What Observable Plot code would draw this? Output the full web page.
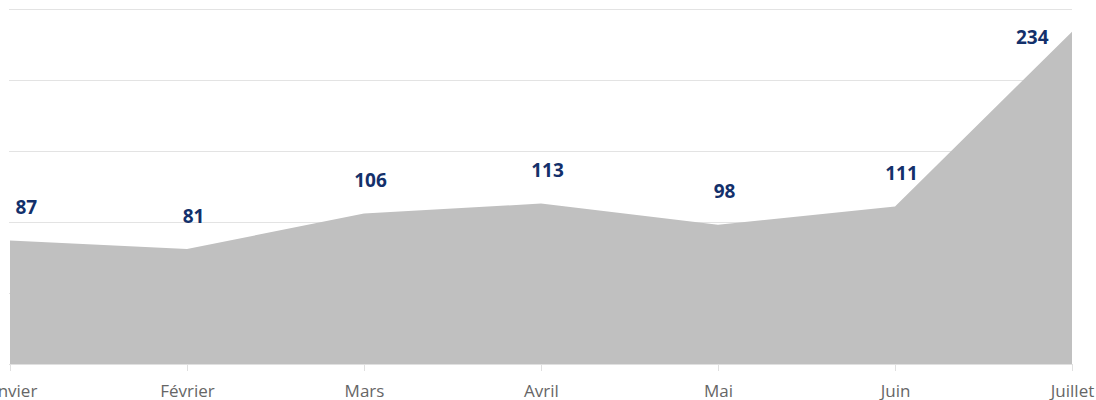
<!DOCTYPE html>
<html>
<head>
<meta charset="utf-8">
<script src="https://cdn.jsdelivr.net/npm/d3@7"></script>
<script src="https://cdn.jsdelivr.net/npm/@observablehq/plot@0.6"></script>
<style>
  html, body { margin: 0; padding: 0; background: #fff; }
  #chart svg { display: block; }
</style>
</head>
<body>
<div id="chart"></div>
<script>
const months = ["Janvier", "Février", "Mars", "Avril", "Mai", "Juin", "Juillet"];
const values = [87, 81, 106, 113, 98, 111, 234];
const yTicks = [0, 50, 100, 150, 200, 250];

const data = months.map((m, i) => ({month: m, value: values[i], idx: i}));
const last = months.length - 1;
const first = data.filter(d => d.idx === 0);
const middle = data.filter(d => d.idx > 0 && d.idx < last);
const end = data.filter(d => d.idx === last);

const labelStyle = {
  x: "month", y: "value", text: d => String(d.value),
  fill: "#13306b", fontSize: 19, fontWeight: 700
};

const chart = Plot.plot({
  width: 1096,
  height: 400,
  marginLeft: 9,
  marginRight: 24,
  marginTop: 9,
  marginBottom: 36,
  style: {fontFamily: "'Open Sans', sans-serif", background: "#fff", overflow: "visible"},
  x: {type: "point", domain: months, padding: 0, label: null},
  y: {domain: [0, 250], label: null, axis: null},
  marks: [
    Plot.ruleY(yTicks.filter(t => t > 0), {stroke: "#e3e3e3", strokeWidth: 1}),
    Plot.areaY(data, {x: "month", y: "value", fill: "#c0c0c0", curve: "linear"}),
    Plot.ruleY([0], {stroke: "#e0e0e0", strokeWidth: 1}),
    Plot.axisX({tickSize: 7, tickPadding: 13, stroke: "#e0e0e0", fill: "#666666", fontSize: 17, label: null, strokeOpacity: 1}),
    Plot.text(first, {...labelStyle, textAnchor: "start", dx: 5, dy: -33}),
    Plot.text(middle, {...labelStyle, dx: 6, dy: -33}),
    Plot.text(end, {...labelStyle, textAnchor: "end", dx: -24, dy: 6})
  ]
});
document.getElementById("chart").appendChild(chart);
</script>
</body>
</html>
